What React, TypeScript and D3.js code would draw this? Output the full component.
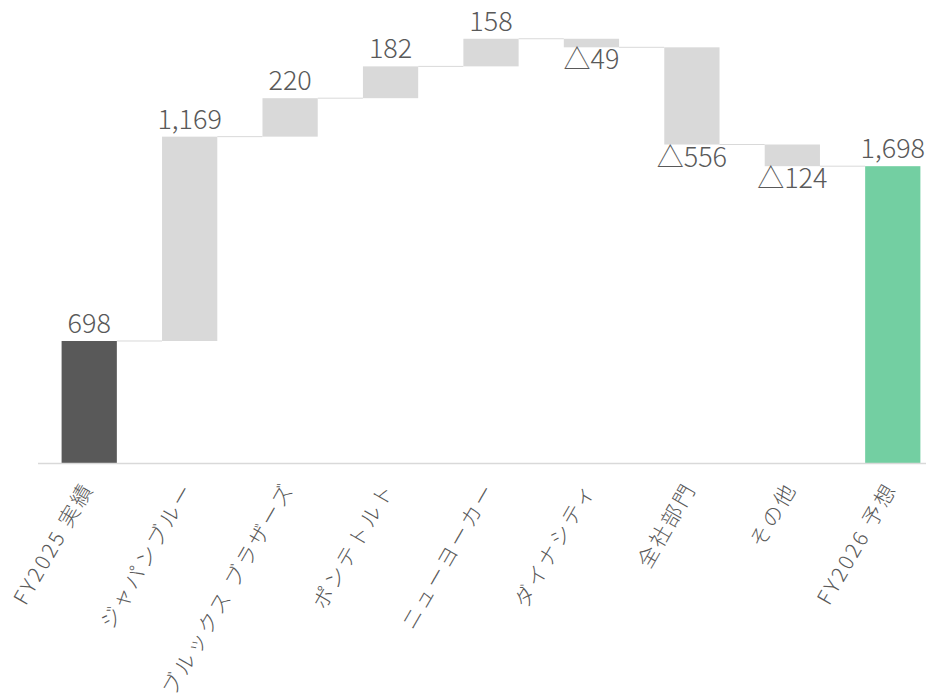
import React from "react";
import * as d3 from "d3";

const categories = [
  "FY2025 実績",
  "ジャパンブルー",
  "ブルックス ブラザーズ",
  "ポンテトルト",
  "ニューヨーカー",
  "ダイナシティ",
  "全社部門",
  "その他",
  "FY2026 予想",
];
const values = [698, 1169, 220, 182, 158, -49, -556, -124, 1698];
const kinds = ["start", "delta", "delta", "delta", "delta", "delta", "delta", "delta", "end"];
const valueLabels = ["698", "1,169", "220", "182", "158", "△49", "△556", "△124", "1,698"];

const W = 926;
const H = 693;
const FONT = "'Noto Sans CJK JP', 'Noto Sans', sans-serif";
const TEXT = "#595959";

export default function App() {
  const x = d3.scaleBand<string>().domain(categories).range([39, 943]).paddingInner(0.45).paddingOuter(0.225);
  const y = d3.scaleLinear().domain([0, 2500]).range([463, 26]);

  let running = 0;
  const bars = categories.map((c, i) => {
    let lo: number, hi: number;
    if (kinds[i] === "delta") {
      const a = running;
      const b = running + values[i];
      lo = Math.min(a, b);
      hi = Math.max(a, b);
      running = b;
    } else {
      lo = 0;
      hi = values[i];
      running = values[i];
    }
    return { c, i, lo, hi, level: running, neg: values[i] < 0 };
  });

  const fill = (k: string) => (k === "start" ? "#595959" : k === "end" ? "#73cfa2" : "#d9d9d9");

  return (
    <svg width={W} height={H} style={{ position: "absolute", left: 0, top: 0, display: "block" }}>
      <rect x={0} y={0} width={W} height={H} fill="#ffffff" />
      {bars.slice(0, -1).map((b) => {
        const nx = categories[b.i + 1];
        return (
          <line
            key={"c" + b.i}
            x1={(x(b.c) ?? 0) + x.bandwidth()}
            x2={x(nx) ?? 0}
            y1={y(b.level)}
            y2={y(b.level)}
            stroke="#d9d9d9"
            strokeWidth={1}
          />
        );
      })}
      {bars.map((b) => (
        <rect
          key={"b" + b.i}
          x={x(b.c)}
          y={y(b.hi)}
          width={x.bandwidth()}
          height={y(b.lo) - y(b.hi)}
          fill={fill(kinds[b.i])}
        />
      ))}
      <line x1={38} x2={W} y1={y(0) + 0.5} y2={y(0) + 0.5} stroke="#d9d9d9" strokeWidth={1.5} />
      {bars.map((b) => {
        const cx = (x(b.c) ?? 0) + x.bandwidth() / 2;
        const ty = b.neg ? y(b.lo) + 22 : y(b.hi) - 8;
        return (
          <text
            key={"v" + b.i}
            x={cx}
            y={ty}
            textAnchor="middle"
            fontFamily={FONT}
            fontSize={27}
            fontWeight={300}
            fill={TEXT}
          >
            {valueLabels[b.i]}
          </text>
        );
      })}
      {categories.map((c) => {
        const cx = (x(c) ?? 0) + x.bandwidth() / 2;
        const ax = cx + 5;
        const ay = 488;
        return (
          <text
            key={"l" + c}
            transform={`translate(${ax},${ay}) rotate(-60)`}
            textAnchor="end"
            fontFamily={FONT}
            fontSize={21}
            fontWeight={300}
            letterSpacing={2.6}
            fill={TEXT}
          >
            {c}
          </text>
        );
      })}
    </svg>
  );
}
